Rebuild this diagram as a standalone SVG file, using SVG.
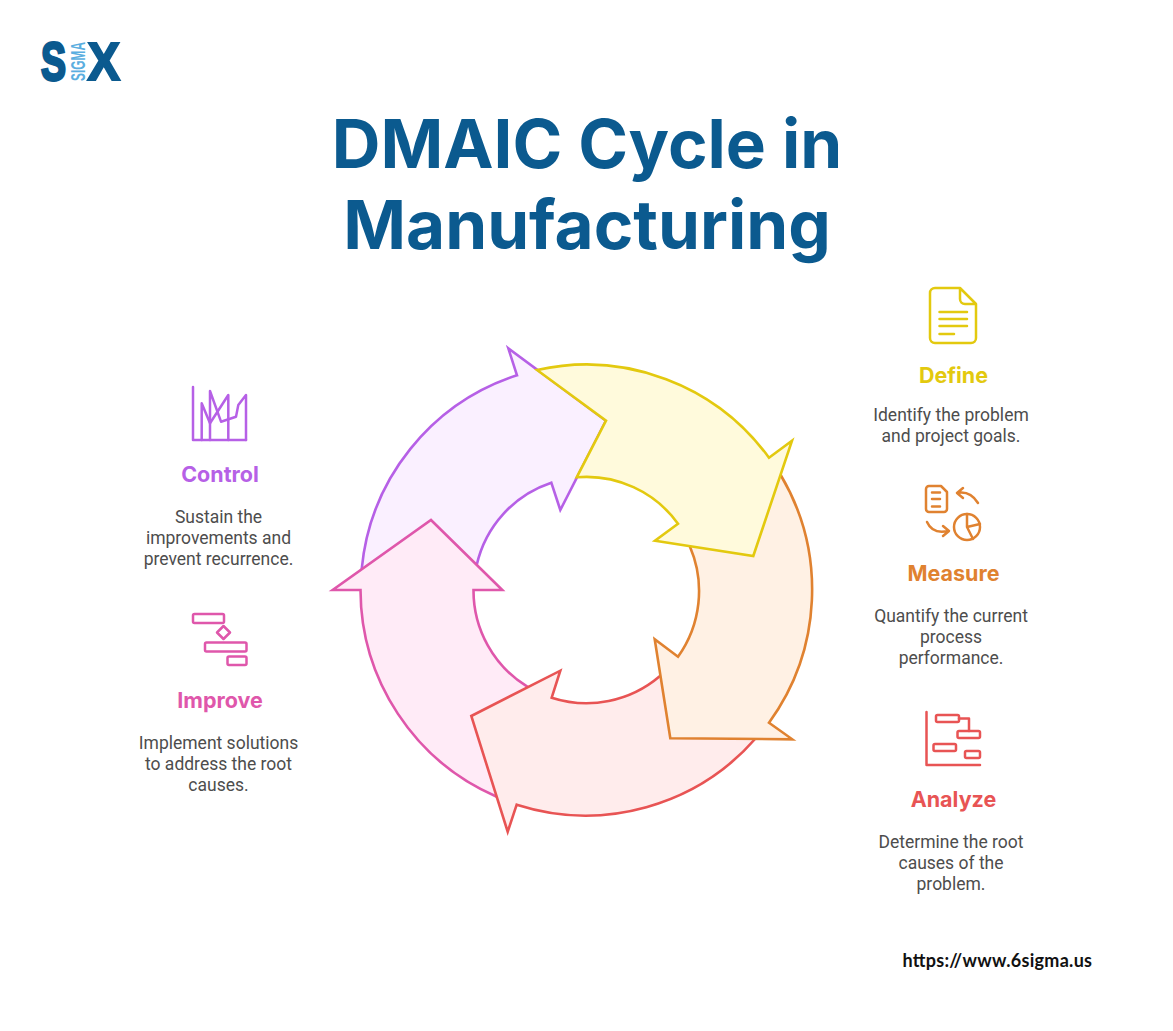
<svg xmlns="http://www.w3.org/2000/svg" width="1173" height="1031" viewBox="0 0 1173 1031">
<style>
text{font-family:Roboto,"Liberation Sans",sans-serif}
.title{font-family:Inter,"Liberation Sans",sans-serif;font-size:67.400px;font-weight:700;fill:#0b5a8f;text-anchor:middle}
.h{font-size:21.500px;font-weight:700;text-anchor:middle;font-family:Inter,Roboto,sans-serif}
.d{font-size:17.500px;fill:#4d4d4d;text-anchor:middle}
.ic{fill:none;stroke-width:2.500;stroke-linejoin:round;stroke-linecap:round}
.ar{stroke-width:2.600;stroke-linejoin:miter}
.y{stroke:#e3c90f}.o{stroke:#e08230}.r{stroke:#e85454}.k{stroke:#df57ab}.p{stroke:#b660e6}
.lg{font-size:54px;font-weight:700;fill:#0b5a8f;stroke:#0b5a8f;font-family:"Liberation Sans",sans-serif}
</style>
<rect width="1173" height="1031" fill="#fff"/>
<g id="logo">
<text class="lg" x="41" y="80" stroke-width="3" textLength="25" lengthAdjust="spacingAndGlyphs">S</text>
<text class="lg" x="87.500" y="80" stroke-width="2.200" textLength="32.500" lengthAdjust="spacingAndGlyphs">X</text>
<text transform="translate(85 81) rotate(-90)" font-size="21" font-weight="700" fill="#5aaee0" textLength="39" lengthAdjust="spacingAndGlyphs" style="font-family:'Liberation Sans',sans-serif">SIGMA</text>
</g>
<g id="title">
<text class="title" x="587" y="167.500">DMAIC Cycle in</text>
<text class="title" x="587" y="249">Manufacturing</text>
</g>
<g id="connectors">
<path id="arrow-control" class="ar p" fill="#faf0ff" d="M361.700 569A226 226 0 0 1 517 375.300L508.300 348.300L606 420.700L560.300 510L551.300 482.700A113 113 0 0 0 476.700 565Z"/>
<path id="arrow-improve" class="ar k" fill="#ffebf7" d="M496.700 796.700A226 226 0 0 1 360.500 590L332.700 590L431 520L502.300 590L473.500 590A113 113 0 0 0 527.300 686.700Z"/>
<path id="arrow-analyze" class="ar r" fill="#ffecec" d="M756 738A226 226 0 0 1 516.700 804.700L507.700 831.700L471.300 716L560.300 670.700L551.700 697.700A113 113 0 0 0 660 676Z"/>
<path id="arrow-measure" class="ar o" fill="#fff1e4" d="M780.700 475A226 226 0 0 1 769 722.700L792.300 739.300L670.300 738.300L654.700 639.300L678 656.700A113 113 0 0 0 690 546.700Z"/>
<path id="arrow-define" class="ar y" fill="#fffadc" d="M537 370A226 226 0 0 1 769 457.700L792 440.700L753.300 556L655 540.700L678 523.700A113 113 0 0 0 576.700 477.300L606 420.700Z"/>
</g>
<g id="define">
<g class="ic y"><path d="M960 288H935a5 5 0 0 0-5 5V338a5 5 0 0 0 5 5H971a5 5 0 0 0 5-5V304ZM960 288V299a5 5 0 0 0 5 5H976"/><path d="M939.500 312H967M939.500 319H967M939.500 326H967M939.500 334H954"/></g>
<text class="h" x="953.500" y="383" fill="#e3c90f">Define</text>
<text class="d" x="951" y="421">Identify the problem</text>
<text class="d" x="951" y="442">and project goals.</text>
</g>
<g id="measure">
<g class="ic o"><path d="M941 486H929a3 3 0 0 0-3 3V509a3 3 0 0 0 3 3H944a3 3 0 0 0 3-3V492Z"/><path d="M932 492.500H940M932 499H940M932 506.500H940"/><path d="M978 503C973 495 967 491 957 493M963 488L957 493L963 498"/><path d="M927 522C931 531 939 533 948 531M943 526L949 531L943 536"/><circle cx="967" cy="527" r="13"/><path d="M967 514V527L973 539M967 527L980 524"/></g>
<text class="h" x="953.500" y="580.500" fill="#e08230">Measure</text>
<text class="d" x="951" y="622">Quantify the current</text>
<text class="d" x="951" y="643">process</text>
<text class="d" x="951" y="664">performance.</text>
</g>
<g id="analyze">
<g class="ic r"><path d="M926.500 712V765H980"/><rect x="936" y="715" width="23" height="7" rx="1.500"/><rect x="957.500" y="731" width="22.500" height="7" rx="1.500"/><rect x="933.500" y="744" width="22.500" height="7" rx="1.500"/><rect x="965" y="751" width="15" height="7" rx="1.500"/><path d="M959 718.500H969V731"/></g>
<text class="h" x="953.500" y="806.500" fill="#e85454">Analyze</text>
<text class="d" x="951" y="848">Determine the root</text>
<text class="d" x="951" y="869">causes of the</text>
<text class="d" x="951" y="890">problem.</text>
</g>
<g id="control">
<g class="ic p"><path d="M193 387V440H246"/><path d="M201.700 440V403.300L210 423.300L228.300 395V440"/><path d="M210 440V391L221 421.700L236 416.700L238.300 405L246 395V440"/></g>
<text class="h" x="220" y="482" fill="#b660e6">Control</text>
<text class="d" x="218.500" y="523">Sustain the</text>
<text class="d" x="218.500" y="544">improvements and</text>
<text class="d" x="218.500" y="565">prevent recurrence.</text>
</g>
<g id="improve">
<g class="ic k"><rect x="193" y="614" width="31" height="9" rx="1.500"/><path d="M223.500 626L230 632.500L223.500 639L217 632.500Z"/><rect x="205" y="642.500" width="41.500" height="9" rx="1.500"/><rect x="227.500" y="656.500" width="19" height="8.500" rx="1.500"/></g>
<text class="h" x="220" y="707.500" fill="#df57ab">Improve</text>
<text class="d" x="218.500" y="749">Implement solutions</text>
<text class="d" x="218.500" y="770">to address the root</text>
<text class="d" x="218.500" y="791">causes.</text>
</g>
<g id="url"><text x="902.500" y="967" font-size="18" font-weight="700" fill="#111" textLength="189.500" style="font-family:Lato,sans-serif">https://www.6sigma.us</text></g>
</svg>
